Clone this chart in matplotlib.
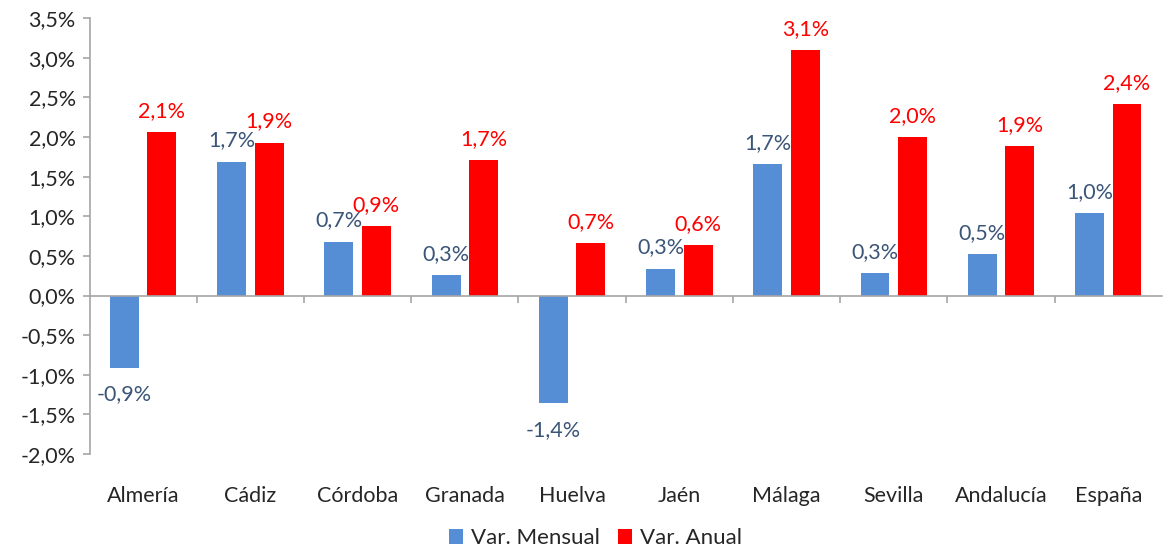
import numpy as np
import matplotlib.pyplot as plt
from matplotlib.ticker import FuncFormatter, FixedLocator

plt.rcParams['font.family'] = ['Lato', 'DejaVu Sans']

# datos (%)
provincias = ['Almería', 'Cádiz', 'Córdoba', 'Granada', 'Huelva',
              'Jaén', 'Málaga', 'Sevilla', 'Andalucía', 'España']
var_mensual = [-0.91, 1.69, 0.68, 0.26, -1.36, 0.34, 1.66, 0.28, 0.52, 1.04]
var_anual = [2.06, 1.93, 0.88, 1.71, 0.66, 0.64, 3.10, 2.00, 1.89, 2.42]

c_mens = '#558ED5'
c_anual = '#FF0000'
c_lab_mens = '#3B5578'
c_axis = '#A6A6A6'
c_text = '#262626'

fig = plt.figure(figsize=[11.63, 5.5], dpi=100)
ax = fig.add_axes([0.077, 0.1745, 0.922, 0.7925])

x = np.arange(len(provincias))
w = 0.27
off = 0.175
b1 = ax.bar(x - off, var_mensual, w, color=c_mens, label='Var. Mensual')
b2 = ax.bar(x + off, var_anual, w, color=c_anual, label='Var. Anual')

fmt = lambda v: ('%.1f%%' % v).replace('.', ',')
for rect, v in zip(b1, var_mensual):
    ax.annotate(fmt(v), (rect.get_x() + rect.get_width() / 2, v),
                xytext=(0, 8 if v >= 0 else -12), textcoords='offset points',
                ha='center', va='bottom' if v >= 0 else 'top',
                color=c_lab_mens, fontsize=15.5)
for rect, v in zip(b2, var_anual):
    ax.annotate(fmt(v), (rect.get_x() + rect.get_width() / 2, v),
                xytext=(0, 8), textcoords='offset points',
                ha='center', va='bottom', color=c_anual, fontsize=15.5)

ax.set_xlim(-0.5, len(provincias) - 0.5)
ax.set_ylim(-2.0, 3.5)
ax.set_yticks(np.arange(-2.0, 3.51, 0.5))
ax.yaxis.set_major_formatter(FuncFormatter(lambda v, p: fmt(v)))

# eje de categorías sobre el cero
ax.spines['top'].set_visible(False)
ax.spines['right'].set_visible(False)
ax.spines['bottom'].set_position(('data', 0))
ax.spines['bottom'].set_color(c_axis)
ax.spines['left'].set_color(c_axis)
ax.spines['bottom'].set_linewidth(1.2)
ax.spines['left'].set_linewidth(1.2)
ax.xaxis.set_major_locator(FixedLocator(x[:-1] + 0.5))
ax.xaxis.set_ticklabels([])
ax.tick_params(axis='x', which='major', direction='out', length=5,
               color=c_axis, width=1.2)
ax.tick_params(axis='y', direction='out', length=5, color=c_axis,
               width=1.2, labelsize=15.5, labelcolor=c_text, pad=5)

for i, name in enumerate(provincias):
    ax.text(i, -0.097, name, transform=ax.get_xaxis_transform(),
            ha='center', va='center', fontsize=15.5, color=c_text)

fig.legend(handles=[b1, b2], loc='center', bbox_to_anchor=(0.512, 0.022),
           ncol=2, frameon=False, fontsize=16, handlelength=0.65,
           handleheight=0.65, handletextpad=0.35, columnspacing=0.8,
           labelcolor=c_text)

fig.savefig('out.png', dpi=100)
